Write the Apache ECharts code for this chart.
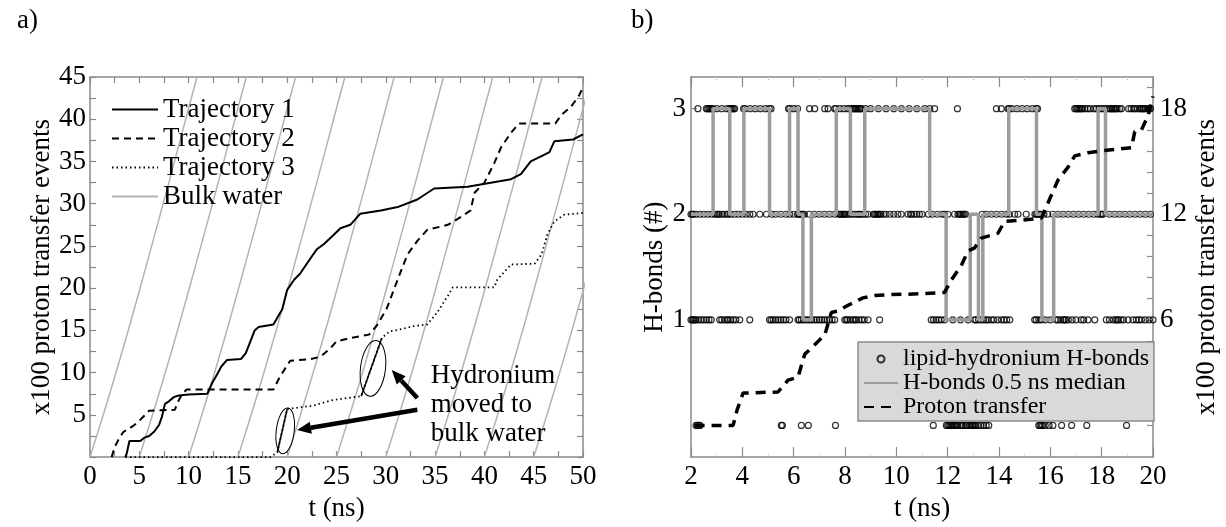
<!DOCTYPE html>
<html>
<head>
<meta charset="utf-8">
<script src="https://cdn.jsdelivr.net/npm/echarts@6/dist/echarts.min.js"></script>
<style>
  html, body { margin: 0; padding: 0; background: #fff; }
  #chart { width: 1226px; height: 527px; }
</style>
</head>
<body>
<div id="chart"></div>
<script>
// ---------- panel a: cumulative proton transfer events (x100) vs time (ns) ----------
const traj1 = [[3.56,0],[3.7,0.3],[4.0,1.9],[5.1,1.9],[5.5,2.3],[6.0,2.5],[6.5,3.0],[7.0,3.8],[7.3,4.8],
  [7.6,6.3],[8.0,6.6],[8.5,7.1],[9.0,7.3],[10,7.4],[11.9,7.5],[12.4,8.8],[12.9,9.8],[13.3,10.7],[13.9,11.5],
  [15.3,11.6],[15.8,12.3],[16.2,13.5],[16.7,15.0],[17.1,15.4],[18.6,15.7],[19.0,16.5],[19.5,17.5],[20.0,19.8],
  [20.7,21.0],[21.3,21.7],[22.4,23.6],[23.0,24.6],[23.7,25.2],[24.7,26.3],[25.4,27.1],[26.4,27.5],[27.4,28.8],
  [29.5,29.2],[31.2,29.6],[33.2,30.5],[34.9,31.8],[38.3,32.0],[42.7,32.9],[43.7,33.5],[44.7,35.0],[45.9,35.7],
  [46.6,36.1],[47.1,37.4],[49.0,37.6],[50.0,38.2]];
const traj2 = [[2.2,0],[2.5,1.2],[3.0,2.3],[3.4,3.0],[4.0,3.4],[4.5,3.8],[5.0,4.3],[5.5,4.9],[6.0,5.5],[6.2,5.6],
  [8.6,5.6],[8.9,6.5],[9.3,7.4],[9.8,8.0],[18.6,8.0],[19.3,9.6],[20.3,11.4],[22.4,11.6],[23.4,11.9],[24.4,12.9],
  [25.0,13.7],[26.4,14.1],[28.3,14.5],[29.1,15.6],[30.1,17.6],[31.2,21.0],[32.2,24.0],[33.2,25.6],[34.2,26.9],
  [36.3,27.5],[37.3,28.2],[38.6,29.2],[39.0,31.3],[40.0,32.5],[41.0,34.8],[41.7,36.7],[42.7,38.4],[43.5,39.5],
  [47.2,39.5],[47.8,40.5],[48.8,41.5],[49.6,42.8],[50.0,43.8]];
const traj3 = [[3.6,0],[18.3,0],[19.0,0.57],[20.0,5.7],[22.7,6.1],[24.4,6.7],[26.1,7.0],[27.5,7.2],[29.6,14.1],
  [30.4,14.9],[31.4,15.1],[32.8,15.5],[34.2,15.7],[35.2,17.1],[36.3,19.1],[36.8,20.1],[41.0,20.1],[41.3,21.0],
  [42.7,22.8],[45.1,22.9],[45.8,24.0],[46.4,26.4],[47.1,27.9],[48.1,28.7],[50.0,28.9]];
// time windows where the hydronium of trajectory 3 sits in bulk water
const bulkWindows = [[19.0, 20.0], [27.5, 29.6]];

// bulk water reference curve (time since start, events) and the start times of its copies
const bulkCurve = [[0,0],[2,7.5],[4,15.5],[5.76,22.9],[8,32.5],[10,41.3],[10.85,45]];
const bulkStarts = [0, 5, 10, 15, 20, 25, 30, 35, 40, 45];

const axisA = { tMin: 0, tMax: 50, tStep: 5, yMin: 0, yMax: 45, yStep: 5 };

// ---------- panel b: lipid-hydronium H-bonds and proton transfer (trajectory 2) ----------
const hb3 = [2.27,2.6,2.65,2.7,2.75,2.8,2.85,3.0,3.2,3.4,3.5,3.55,3.6,3.65,3.7,4.05,4.1,4.3,4.5,4.7,4.9,5.05,5.12,
  5.8,5.85,6.0,6.15,6.62,6.82,7.21,7.34,7.6,7.65,7.8,7.95,8.1,8.2,8.3,8.35,8.4,8.45,8.5,8.55,8.6,8.64,
  8.8,9.0,9.3,9.6,9.9,10.2,10.5,10.8,11.1,11.3,11.49,12.38,13.9,14.09,14.35,14.4,14.5,14.7,14.9,15.1,15.3,15.45,15.5,
  16.95,17.0,17.05,17.1,17.15,17.2,17.25,17.35,17.45,17.55,17.7,17.8,17.9,18.0,18.1,18.2,18.3,18.35,18.4,18.45,
  18.5,18.55,18.6,18.7,18.77,19.05,19.15,19.25,19.3,19.4,19.5,19.55,19.6,19.65,19.7,19.8,19.85,19.9];
const hb2 = [2.0,2.05,2.1,2.2,2.35,2.5,2.65,2.8,2.92,3.0,3.05,3.1,3.2,3.3,3.4,3.45,3.55,3.7,3.85,4.0,4.15,4.29,4.42,
  4.68,4.94,5.15,5.3,5.5,5.7,5.85,6.0,6.15,6.2,6.25,6.3,6.35,6.42,6.6,6.8,7.0,7.2,7.4,7.6,7.75,7.8,7.85,7.9,7.95,
  8.0,8.05,8.15,8.2,8.3,8.4,8.5,8.55,8.6,8.7,8.8,8.9,9.1,9.15,9.2,9.25,9.3,9.35,9.4,9.5,9.6,9.75,9.9,10.06,10.19,
  10.45,10.55,10.6,10.7,10.8,10.9,11.0,11.25,11.4,11.6,11.8,11.88,12.01,12.27,12.4,12.45,12.5,12.55,12.6,12.65,12.7,
  13.35,13.5,13.7,13.9,14.1,14.3,14.4,14.61,14.74,15.06,15.4,15.45,15.5,15.55,15.6,15.65,15.75,15.9,
  16.1,16.3,16.5,16.7,16.9,17.1,17.3,17.5,17.7,17.85,17.95,18.0,18.05,18.3,18.5,18.7,18.9,19.1,19.3,19.5,19.7,19.9];
const hb1 = [2.0,2.05,2.1,2.15,2.2,2.3,2.4,2.5,2.6,2.7,2.79,3.12,3.2,3.3,3.4,3.45,3.55,3.65,3.75,3.9,4.29,
  5.06,5.12,5.2,5.3,5.4,5.5,5.6,5.7,5.84,6.17,6.22,6.3,6.4,6.5,6.6,6.7,6.8,6.9,7.0,7.1,7.2,7.3,7.4,7.5,7.6,
  7.99,8.05,8.1,8.2,8.3,8.38,8.44,8.55,8.65,8.75,8.9,9.35,11.36,11.45,11.55,11.65,11.75,11.88,12.2,12.5,12.8,
  13.05,13.1,13.2,13.3,13.4,13.5,13.57,13.7,13.8,13.95,14.1,14.2,14.3,14.42,15.39,15.45,15.55,15.65,15.8,16.0,
  16.23,16.3,16.4,16.5,16.55,16.6,16.7,16.85,17.0,17.2,17.3,17.47,17.73,18.18,18.3,18.45,18.55,18.6,18.65,18.75,
  18.85,19.03,19.22,19.35,19.45,19.55,19.7,19.85,20.0];
const hb0 = [2.2,2.25,2.3,2.35,5.52,5.56,6.3,6.57,7.63,11.44,11.95,12.0,12.05,12.1,12.15,12.2,12.25,12.3,12.35,
  12.4,12.5,12.55,12.6,12.7,12.75,12.85,12.9,12.95,13.0,13.05,13.1,13.2,13.3,13.4,13.5,13.6,15.55,15.6,15.65,
  15.7,15.8,15.95,16.1,16.44,16.83,17.42,18.97];

// 0.5 ns running median of the H-bond count: level holds from each time to the next
const medianT = [2, 2.86, 3.51, 4.06, 5.06, 5.84, 6.17, 6.36, 6.69, 7.66, 8.21, 8.77, 11.3, 11.94, 12.88, 13.2,
  13.37, 14.38, 15.46, 15.67, 16.13, 17.86, 18.15, 20];
const medianLevel = [2, 3, 2, 3, 2, 3, 2, 1, 2, 3, 2, 3, 2, 1, 2, 1, 2, 3, 2, 1, 2, 3, 2, 2];

// proton transfer events (x100) of the same run, right axis
const ptT = [2.14,3.64,3.8,4.03,5.39,5.78,6.17,6.43,6.82,7.21,7.47,7.73,8.12,8.70,9.16,9.68,10.97,11.88,12.14,
  12.53,12.79,13.05,13.31,13.51,13.96,14.22,14.87,15.65,15.97,16.3,16.69,16.95,17.47,17.99,19.16,19.29,19.55,19.81,20];
const ptV = [0,0,0.9,1.84,1.9,2.57,2.75,4.04,4.59,5.14,6.42,6.5,6.83,7.25,7.38,7.43,7.48,7.56,8.26,9.08,9.91,
  10.09,10.64,10.73,10.92,11.6,11.66,11.78,12.85,13.95,14.68,15.32,15.5,15.6,15.78,16.7,16.8,17.6,18.7];

const hbLabels = [1, 2, 3];
const ptLabels = [6, 12, 18];
const ptTicks = [0, 1.2, 2.4, 3.6, 4.8, 6, 7.2, 8.4, 9.6, 10.8, 12, 13.2, 14.4, 15.6, 16.8, 18, 19.2];

// ---------- styling ----------
const FONT = '"Liberation Serif", "Times New Roman", Tinos, "DejaVu Serif", serif';
const FRAME = '#8a8a8a';
const txt = (size) => ({ fontFamily: FONT, fontSize: size, color: '#000' });

function frameAxis(extra) {
  return Object.assign({
    type: 'value',
    axisLine: { show: true, onZero: false, lineStyle: { color: FRAME, width: 1.5 } },
    axisTick: { show: true, inside: true, length: 6, lineStyle: { color: FRAME, width: 1.2 } },
    splitLine: { show: false },
    axisLabel: Object.assign({ show: true }, txt(27)),
    nameTextStyle: txt(27)
  }, extra);
}

const bulkSeries = bulkStarts.map(s => ({
  name: 'Bulk water', type: 'line', xAxisIndex: 0, yAxisIndex: 0,
  data: bulkCurve.map(p => [s + p[0], p[1]]),
  symbol: 'none', smooth: 0.3, z: 1,
  lineStyle: { color: '#b3b3b3', width: 1.5 }, itemStyle: { color: '#b3b3b3' },
  emphasis: { disabled: true }
}));

const trajLine = (name, data, type, width) => ({
  name, type: 'line', xAxisIndex: 0, yAxisIndex: 0, data, symbol: 'none', z: 3,
  lineStyle: { color: '#000', width, type }, itemStyle: { color: '#000' }, emphasis: { disabled: true }
});

const bulkSegments = bulkWindows.map(w => ({
  type: 'line', xAxisIndex: 0, yAxisIndex: 0, symbol: 'none', z: 4,
  data: traj3.filter(p => p[0] >= w[0] && p[0] <= w[1]),
  lineStyle: { color: '#000', width: 1.5 }, emphasis: { disabled: true }
}));

const hbPoints = [].concat(
  hb3.map(t => [t, 3]), hb2.map(t => [t, 2]), hb1.map(t => [t, 1]), hb0.map(t => [t, 0]));

// legend entries for line series: show only the line sample, no marker
const lineEntry = (name) => ({ name, itemStyle: { opacity: 0 } });

const option = {
  animation: false,
  backgroundColor: '#fff',
  title: [
    { text: 'a)', left: 12, top: 2, textStyle: Object.assign({ fontWeight: 'normal' }, txt(27)) },
    { text: 'b)', left: 626, top: 2, textStyle: Object.assign({ fontWeight: 'normal' }, txt(27)) }
  ],
  grid: [
    { left: 90, top: 77, width: 493, height: 393 },
    { left: 691, top: 77, width: 462, height: 393 }
  ],
  xAxis: [
    frameAxis({ gridIndex: 0, position: 'bottom', min: axisA.tMin, max: axisA.tMax, interval: axisA.tStep,
      minorTick: { show: true, splitNumber: 2, length: 6, lineStyle: { color: FRAME, width: 1.2 } },
      axisLabel: Object.assign({ margin: 6 }, txt(27)),
      name: 't (ns)', nameLocation: 'middle', nameGap: 32 }),
    frameAxis({ gridIndex: 0, position: 'top', min: axisA.tMin, max: axisA.tMax, interval: axisA.tStep,
      minorTick: { show: true, splitNumber: 2, length: 6, lineStyle: { color: FRAME, width: 1.2 } },
      axisLabel: { show: false } }),
    frameAxis({ gridIndex: 1, position: 'bottom', min: 2, max: 20, interval: 2,
      axisTick: { show: true, inside: true, length: 10, lineStyle: { color: FRAME, width: 1.2 } },
      minorTick: { show: true, splitNumber: 2, length: 3, lineStyle: { color: '#aaa', width: 1, type: 'dotted' } },
      axisLabel: Object.assign({ margin: 6 }, txt(27)),
      name: 't (ns)', nameLocation: 'middle', nameGap: 32 }),
    frameAxis({ gridIndex: 1, position: 'top', min: 2, max: 20, interval: 2,
      axisTick: { show: true, inside: true, length: 10, lineStyle: { color: FRAME, width: 1.2 } },
      minorTick: { show: true, splitNumber: 2, length: 3, lineStyle: { color: '#aaa', width: 1, type: 'dotted' } },
      axisLabel: { show: false } })
  ],
  yAxis: [
    frameAxis({ gridIndex: 0, position: 'left', min: axisA.yMin, max: axisA.yMax, interval: axisA.yStep,
      minorTick: { show: true, splitNumber: 2, length: 6, lineStyle: { color: FRAME, width: 1.2 } },
      axisLabel: Object.assign({ margin: 4, showMinLabel: false }, txt(27)),
      name: 'x100 proton transfer events', nameLocation: 'middle', nameGap: 33 }),
    frameAxis({ gridIndex: 0, position: 'right', min: axisA.yMin, max: axisA.yMax, interval: axisA.yStep,
      minorTick: { show: true, splitNumber: 2, length: 6, lineStyle: { color: FRAME, width: 1.2 } },
      axisLabel: { show: false } }),
    frameAxis({ gridIndex: 1, position: 'left', min: -0.3, max: 3.3,
      axisTick: { show: true, inside: true, length: 6, customValues: hbLabels, lineStyle: { color: FRAME, width: 1.2 } },
      axisLabel: Object.assign({ margin: 5, customValues: hbLabels }, txt(27)),
      name: 'H-bonds (#)', nameLocation: 'middle', nameGap: 22 }),
    frameAxis({ gridIndex: 1, position: 'right', min: -1.8, max: 19.8,
      axisTick: { show: true, inside: true, length: 6, customValues: ptTicks, lineStyle: { color: FRAME, width: 1.2 } },
      axisLabel: Object.assign({ margin: 7, customValues: ptLabels }, txt(27)),
      name: 'x100 proton transfer events', nameLocation: 'middle', nameGap: 40 })
  ],
  legend: [
    {
      orient: 'vertical', left: 106, top: 90, itemWidth: 46, itemHeight: 14, itemGap: 0,
      data: ['Trajectory 1', 'Trajectory 2', 'Trajectory 3', 'Bulk water'].map(lineEntry),
      textStyle: Object.assign({ lineHeight: 29 }, txt(27)),
      selectedMode: false
    },
    {
      orient: 'vertical', left: 858, top: 342, itemWidth: 34, itemHeight: 7, itemGap: 0,
      padding: [5, 5, 2, 5],
      backgroundColor: '#d9d9d9', borderColor: FRAME, borderWidth: 1.5, borderRadius: 0,
      data: ['lipid-hydronium H-bonds', lineEntry('H-bonds 0.5 ns median'), lineEntry('Proton transfer')],
      textStyle: Object.assign({ lineHeight: 23.5 }, txt(24)),
      selectedMode: false
    }
  ],
  series: [
    ...bulkSeries,
    trajLine('Trajectory 1', traj1, 'solid', 2),
    trajLine('Trajectory 2', traj2, [7, 5], 2),
    trajLine('Trajectory 3', traj3, [1.5, 3], 1.8),
    ...bulkSegments,
    {
      name: 'lipid-hydronium H-bonds', type: 'scatter', xAxisIndex: 2, yAxisIndex: 2,
      data: hbPoints, symbol: 'circle', symbolSize: 6, z: 2,
      itemStyle: { color: 'rgba(0,0,0,0)', borderColor: '#000', borderWidth: 1.2 },
      emphasis: { disabled: true }
    },
    {
      name: 'H-bonds 0.5 ns median', type: 'line', xAxisIndex: 2, yAxisIndex: 2,
      data: medianT.map((t, i) => [t, medianLevel[i]]), step: 'end', symbol: 'none', z: 3,
      lineStyle: { color: '#9c9c9c', width: 3.5 }, itemStyle: { color: '#9c9c9c' },
      emphasis: { disabled: true }
    },
    {
      name: 'Proton transfer', type: 'line', xAxisIndex: 2, yAxisIndex: 3,
      data: ptT.map((t, i) => [t, ptV[i]]), symbol: 'none', z: 4,
      lineStyle: { color: '#000', width: 3.5, type: [10, 7] }, itemStyle: { color: '#000' },
      emphasis: { disabled: true }
    }
  ]
};

const chart = echarts.init(document.getElementById('chart'), null, { renderer: 'canvas' });
chart.setOption(option);

// ---------- annotations on panel a, placed in data coordinates ----------
const px = (t, y) => chart.convertToPixel({ xAxisIndex: 0, yAxisIndex: 0 }, [t, y]);
const ellipses = [ { c: [19.8, 3.1], rx: 9, ry: 23 }, { c: [28.7, 10.5], rx: 12.5, ry: 28 } ];
const arrows = [ { from: [33.2, 7.0], to: [30.6, 10.3] }, { from: [33.2, 5.6], to: [21.0, 3.2] } ];
const noteAt = [34.55, 11.3];

const graphics = [];
ellipses.forEach(e => {
  const [x, y] = px(e.c[0], e.c[1]);
  graphics.push({ type: 'ellipse', x, y, rotation: -0.12, z: 10,
    shape: { cx: 0, cy: 0, rx: e.rx, ry: e.ry },
    style: { fill: null, stroke: '#000', lineWidth: 1 } });
});
arrows.forEach(a => {
  const [x1, y1] = px(a.from[0], a.from[1]);
  const [x2, y2] = px(a.to[0], a.to[1]);
  const dx = x2 - x1, dy = y2 - y1, L = Math.hypot(dx, dy), ux = dx / L, uy = dy / L;
  const hl = 14, hw = 6, bx = x2 - ux * hl, by = y2 - uy * hl;
  graphics.push({ type: 'line', z: 10, shape: { x1, y1, x2: bx, y2: by },
    style: { stroke: '#000', lineWidth: 4.5 } });
  graphics.push({ type: 'polygon', z: 10,
    shape: { points: [[x2, y2], [bx - uy * hw, by + ux * hw], [bx + uy * hw, by - ux * hw]] },
    style: { fill: '#000' } });
});
const [nx, ny] = px(noteAt[0], noteAt[1]);
graphics.push({ type: 'text', x: nx, y: ny, z: 10,
  style: { text: 'Hydronium\nmoved to\nbulk water', fontFamily: FONT, fontSize: 27, lineHeight: 29, fill: '#000' } });

chart.setOption({ graphic: graphics });
</script>
</body>
</html>
